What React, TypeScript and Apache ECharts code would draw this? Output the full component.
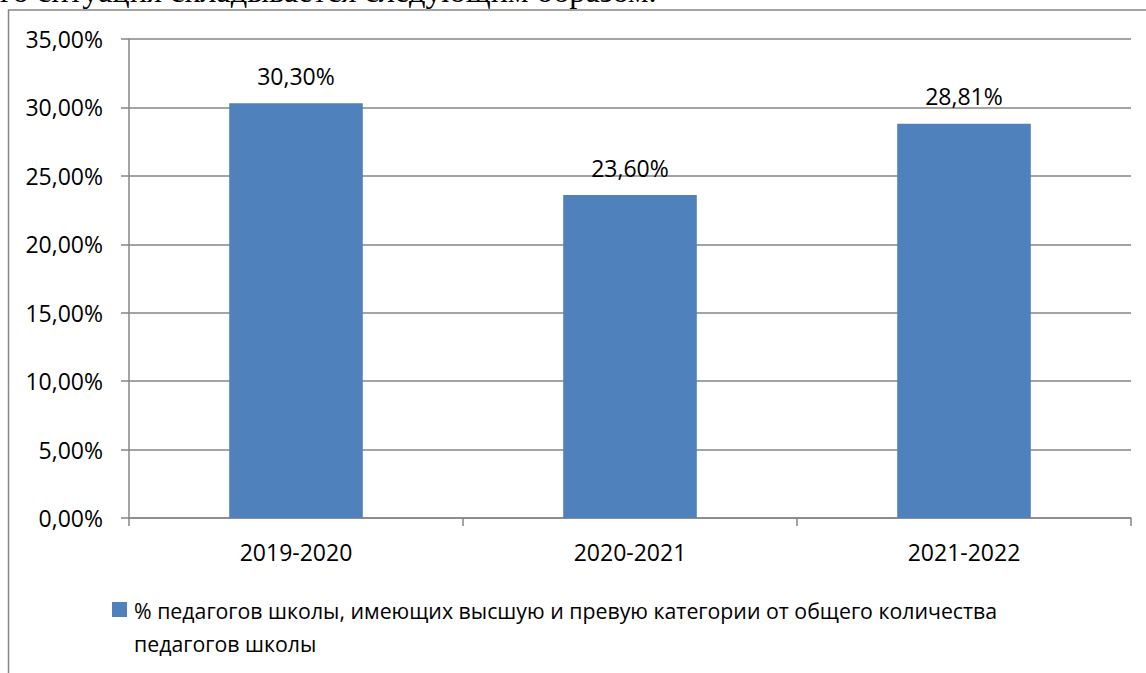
import React, { useEffect, useRef } from "react";
import * as echarts from "echarts";

const categories = ["2019-2020", "2020-2021", "2021-2022"];
const values = [30.3, 23.6, 28.81];
const seriesName =
  "% педагогов школы, имеющих высшую и превую категории от общего количества педагогов школы";
const legendLine1 = "% педагогов школы, имеющих высшую и превую категории от общего количества";
const legendLine2 = "педагогов школы";
const topText = "го ситуация складывается следующим образом.";

const fmt = (v: number) => v.toFixed(2).replace(".", ",") + "%";

export default function App() {
  const ref = useRef<HTMLDivElement>(null);
  useEffect(() => {
    if (!ref.current) return;
    const chart = echarts.init(ref.current, null, { renderer: "svg" });
    const font = "'Open Sans', sans-serif";
    const grey = "#868686";
    chart.setOption({
      animation: false,
      backgroundColor: "#ffffff",
      grid: { left: 129, right: 15, top: 39, bottom: 155, containLabel: false },
      xAxis: {
        type: "category",
        data: categories,
        axisLine: { show: true, lineStyle: { color: grey, width: 1.5 } },
        axisTick: { show: true, length: 8, lineStyle: { color: grey, width: 1.5 } },
        axisLabel: { color: "#000", fontFamily: font, fontSize: 23, margin: 22 },
      },
      yAxis: {
        type: "value",
        min: 0,
        max: 35,
        interval: 5,
        axisLine: { show: true, lineStyle: { color: grey, width: 1.5 } },
        axisTick: { show: true, length: 8, lineStyle: { color: grey, width: 1.5 } },
        splitLine: { show: true, lineStyle: { color: grey, width: 1.5 } },
        axisLabel: {
          color: "#000",
          fontFamily: font,
          fontSize: 23,
          margin: 26,
          formatter: (v: number) => fmt(v),
        },
      },
      series: [
        {
          name: seriesName,
          type: "bar",
          data: values,
          barWidth: "40%",
          itemStyle: { color: "#4F81BD" },
          label: {
            show: true,
            position: "top",
            distance: 16,
            color: "#000",
            fontFamily: font,
            fontSize: 23,
            formatter: (p: any) => fmt(p.value),
          },
        },
      ],
      graphic: [
        {
          type: "text",
          left: 0,
          top: -25,
          style: {
            text: topText,
            fontFamily: "'Liberation Serif', serif",
            fontSize: 32.4,
            fill: "#000",
          },
        },
        {
          type: "polyline",
          shape: { points: [[8.5, 700], [8.5, 10], [1200, 10]] },
          style: { stroke: grey, lineWidth: 1.5, fill: "none" },
        },
        {
          type: "rect",
          shape: { x: 112, y: 602, width: 15, height: 15 },
          style: { fill: "#4F81BD" },
        },
        {
          type: "text",
          x: 134,
          y: 610,
          style: {
            text: legendLine1,
            fontFamily: font,
            fontSize: 21.3,
            fill: "#000",
            verticalAlign: "middle",
          },
        },
        {
          type: "text",
          x: 134,
          y: 643,
          style: {
            text: legendLine2,
            fontFamily: font,
            fontSize: 21.3,
            fill: "#000",
            verticalAlign: "middle",
          },
        },
      ],
    });
    return () => chart.dispose();
  }, []);
  return (
    <div
      ref={ref}
      style={{ position: "fixed", left: 0, top: 0, width: 1146, height: 673 }}
    />
  );
}
